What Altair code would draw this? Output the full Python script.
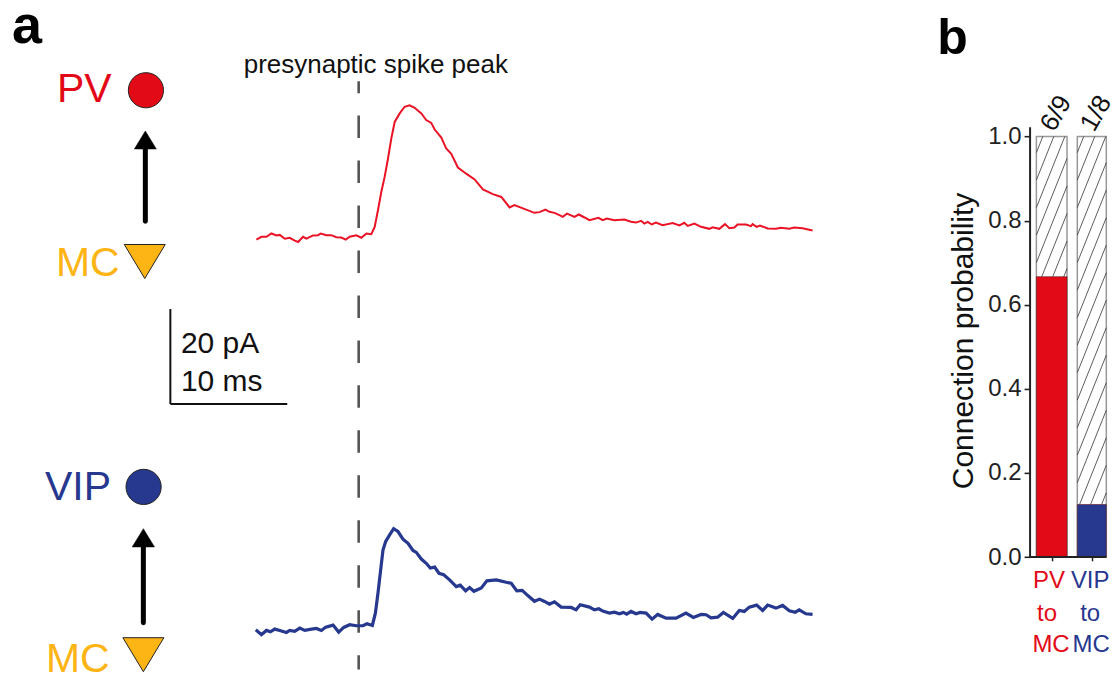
import altair as alt
import pandas as pd

FONT = "Liberation Sans"
RED = "#e30a17"
BLUE = "#27388f"
ORANGE = "#fdb515"

# ---------- panel a: mean postsynaptic currents (ms after presynaptic peak, pA above baseline)
pv_time = [-8.75,-8.32,-7.89,-7.46,-7.04,-6.75,-6.32,-5.9,-5.47,-5.18,-4.76,-4.47,-3.9,-3.47,-3.25,-2.76,-2.34,-1.91,-1.48,-1.11,-0.77,-0.2,0.23,0.66,1.08,1.37,1.65,1.94,2.22,2.51,2.79,3.08,3.51,3.93,4.36,4.79,5.36,5.78,6.21,6.5,7.07,7.49,7.92,8.49,9.2,9.92,10.63,11.48,12.2,12.91,13.33,14.05,15.04,15.47,
           15.98,16.32,16.75,17.18,17.46,17.83,18.46,18.83,19.32,19.74,20.51,20.88,21.22,21.88,22.73,23.3,23.73,24.16,24.44,24.73,25.07,25.44,26,26.87,27.44,27.86,28.15,28.72,29.29,30,30.28,30.85,31.34,31.71,32.14,32.42,33.13,33.56,33.7,34.05,34.33,34.99,35.7,36.12,36.84,37.26,37.98,38.83]
pv_current = [-0.6,0,0,0.7,0.3,0.4,-0.4,-0.2,-0.8,-1.1,0,-0.4,0.3,0.35,0.7,0.35,0.35,-0.1,-0.15,-0.6,0,0.3,-0.2,0.7,0.55,2.1,5.6,9.5,12.6,16.5,20.7,24.2,26,27.4,27.7,27.2,26,24.6,24,22.6,20.9,18.6,17.5,14.6,13.3,12.1,10,9,8.4,6.2,6.7,6,5.05,5.2,
              5.75,5.26,5.05,4.56,4.2,4.9,4.2,4.7,4.07,3.5,4,3.5,3.86,3.5,3.65,3.16,3,3.37,2.8,3.16,2.6,3,2.46,2.88,2.39,2.95,2.3,2.8,2.1,1.68,2,1.68,2.67,1.82,1.96,2.6,2.6,2.25,2.67,2.1,2.39,1.75,1.68,1.9,1.68,1.96,1.82,1.33]
vip_time = [-8.8,-8.32,-7.89,-7.55,-7.18,-6.75,-6.18,-5.9,-5.47,-5.04,-4.61,-4.04,-3.62,-3.19,-2.82,-2.19,-1.71,-1.28,-0.77,-0.2,0.37,0.71,1.17,1.43,1.65,1.88,2.08,2.31,2.65,2.99,3.36,3.79,4.22,4.65,4.93,5.36,5.78,6.13,6.5,6.87,7.27,7.78,8.35,8.69,9.15,9.49,9.86,10.49,10.97,11.77,12.62,13.05,13.53,13.99,14.47,15.04,15.47,
            15.9,16.32,16.75,17.32,18.18,18.6,18.95,19.74,20.17,20.54,20.88,21.45,21.88,22.31,22.65,22.93,23.3,23.73,24.07,24.59,25.1,25.58,26.3,27.15,28,28.63,29.29,29.72,30.14,30.71,31.2,32,32.56,32.99,33.42,34.05,34.56,34.99,35.7,36.27,36.84,37.35,37.69,38.26,38.83]
vip_current = [-0.7,-1.75,-0.84,-1.12,-0.56,-0.84,-1.26,-0.84,-1.05,-0.35,-0.84,-0.56,-0.42,-0.84,-0.14,0.28,-1.19,-0.21,0.35,0.14,0.14,0.56,0.21,2.8,7,11.9,16.1,17.9,19.3,20.6,20,18.4,17.5,16,15.6,14.2,13.3,12.3,12.5,11.2,10.9,9.8,8.4,8.7,7.5,8.2,7.4,8.1,9.6,9.8,9.3,9.1,7.5,7.6,6.5,5.3,5.75,
               5.26,4.7,5.2,4.07,4,3.5,4.56,4.07,3.5,3.72,3.23,2.8,3,2.67,2.95,2.6,3.16,2.67,2.95,2.8,1.54,2.53,1.75,1.75,2.8,1.9,2.53,2.46,1.82,1.96,2.95,1.68,3.37,3.16,4.07,4.49,3.37,4.49,3.86,4.42,3.3,3,3.5,2.67,2.53]
PV_OFFSET = 82.1  # vertical separation of the two traces, pA

# ---------- panel b: connection probability
categories = ["PV to MC", "VIP to MC"]
connected = [6, 1]
tested = [9, 8]
probability = [c / t for c, t in zip(connected, tested)]
bar_colors = [RED, BLUE]

XA = alt.Scale(domain=[-30, 47.78], nice=False, zero=False)
YA = alt.Scale(domain=[-9.75, 130.25], nice=False, zero=False)
XB = alt.Scale(domain=[0.463, 2.453], nice=False, zero=False)
YB = alt.Scale(domain=[-0.2748, 1.3048], nice=False, zero=False)

y_axis = alt.Axis(
    title="Connection probability", values=[0, 0.2, 0.4, 0.6, 0.8, 1.0], format=".1f",
    domain=False, grid=False, tickSize=6, tickWidth=1.6, tickColor="#222222",
    labelFont=FONT, labelFontSize=24, labelColor="#222222", labelPadding=3,
    titleFont=FONT, titleFontSize=30, titleFontWeight="normal", titleColor="#111111", titlePadding=9,
)
x_axis = alt.Axis(
    title=None, values=[1, 2], labels=False, domain=False, grid=False, tickSize=4,
    tickWidth=1.5, tickColor="#222222", offset=-116,
)


def xa(f="x"): return alt.X(f"{f}:Q", scale=XA, axis=None)
def ya(f="y"): return alt.Y(f"{f}:Q", scale=YA, axis=None)
def xb(f="x"): return alt.X(f"{f}:Q", scale=XB, axis=x_axis)
def yb(f="y"): return alt.Y(f"{f}:Q", scale=YB, axis=y_axis)


def df(**k):
    return alt.Data(values=pd.DataFrame(k).to_dict("records"))


def text_a(x, y, s, color, size, weight="normal"):
    return alt.Chart(df(x=[x], y=[y], s=[s])).mark_text(
        align="left", baseline="alphabetic", font=FONT, fontSize=size, fontWeight=weight, color=color
    ).encode(x=xa(), y=ya(), text="s:N")


def vrule_a(x, y0, y1, **style):
    return alt.Chart(df(x=[x], y=[y0], y2=[y1])).mark_rule(**style).encode(
        x=xa(), y=ya(), y2=alt.Y2("y2:Q"))


def symbol_a(x, y, shape, size, fill, stroke="#222222", sw=1.0):
    return alt.Chart(df(x=[x], y=[y])).mark_point(
        shape=shape, size=size, filled=True, fill=fill, fillOpacity=1,
        stroke=stroke, strokeWidth=sw, opacity=1
    ).encode(x=xa(), y=ya())


DOWN = "M-1,-0.83L1,-0.83L0,0.83Z"
UP = "M0,-0.82L1,0.82L-1,0.82Z"

pv_line = alt.Chart(df(t=pv_time, v=[v + PV_OFFSET for v in pv_current])).mark_line(
    color="#ea1326", strokeWidth=2, interpolate="linear").encode(x=xa("t"), y=ya("v"))
vip_line = alt.Chart(df(t=vip_time, v=vip_current)).mark_line(
    color=BLUE, strokeWidth=3.2, interpolate="linear").encode(x=xa("t"), y=ya("v"))

dash = vrule_a(0, 114.9, -9.1, color="#555555", strokeWidth=2.6,
               strokeDash=[22.5, 22.5], strokeDashOffset=10.5)
scale_v = vrule_a(-16.11, 66.88, 46.88, color="#111111", strokeWidth=2)
scale_h = alt.Chart(df(x=[-16.11], x2=[-6.11], y=[46.88])).mark_rule(
    color="#111111", strokeWidth=2).encode(x=xa(), x2=alt.X2("x2:Q"), y=ya())

panel_a = alt.layer(
    dash,
    pv_line,
    vip_line,
    scale_v,
    scale_h,
    vrule_a(-18.25, 85.4, 101, color="black", strokeWidth=5, strokeCap="round"),
    vrule_a(-18.42, 0.77, 17.4, color="black", strokeWidth=5, strokeCap="round"),
    symbol_a(-18.25, 102.5, UP, 484, "black", "black", 0.5),
    symbol_a(-18.42, 18.67, UP, 500, "black", "black", 0.5),
    symbol_a(-18.2, 112.98, "circle", 1240, RED),
    symbol_a(-18.4, 29.4, "circle", 1240, BLUE),
    symbol_a(-18.3, 76.9, DOWN, 1681, ORANGE),
    symbol_a(-18.42, -5.96, DOWN, 1681, ORANGE),
    text_a(-29.66, 122.9, "a", "black", 54, "bold"),
    text_a(-25.81, 110.46, "PV", RED, 41),
    text_a(-25.9, 73.8, "MC", ORANGE, 41),
    text_a(-26.84, 26.67, "VIP", BLUE, 41),
    text_a(-26.75, -9.54, "MC", ORANGE, 41),
    text_a(-9.83, 116.56, "presynaptic spike peak", "#111111", 26),
    text_a(-15.21, 57.6, "20 pA", "#111111", 30),
    text_a(-15.21, 49.6, "10 ms", "#111111", 30),
).properties(width=910, height=665)

# ---------- panel b layers
bar_x0 = [0.62, 1.639]
bar_x1 = [1.383, 2.361]

hatch_rows = []
SLOPE, STEP = 0.2387, 0.274
for b in range(2):
    ymin = probability[b]
    c = bar_x0[b] + 0.16
    while c + (ymin - 1) / SLOPE < bar_x1[b]:
        lo = max(bar_x0[b], c + (ymin - 1) / SLOPE)
        hi = min(bar_x1[b], c)
        key = f"{b}-{c:.3f}"
        hatch_rows.append(dict(k=key, x=lo, y=1 + SLOPE * (lo - c)))
        hatch_rows.append(dict(k=key, x=hi, y=1 + SLOPE * (hi - c)))
        c += STEP

outline = alt.Chart(df(x=bar_x0, x2=bar_x1, y=[0, 0], y2=[1, 1])).mark_rect(
    fill="white", stroke="#999999", strokeWidth=1.5
).encode(x=xb(), x2=alt.X2("x2:Q"), y=yb(), y2=alt.Y2("y2:Q"))
hatch = alt.Chart(alt.Data(values=hatch_rows)).mark_line(
    color="#333333", strokeWidth=0.8).encode(x=xb(), y=yb(), detail="k:N")
filled = alt.Chart(df(x=bar_x0, x2=bar_x1, y=[0, 0], y2=probability, c=bar_colors, name=categories)).mark_rect(
    stroke="#5a1a1a", strokeWidth=0.6
).encode(x=xb(), x2=alt.X2("x2:Q"), y=yb(), y2=alt.Y2("y2:Q"),
         fill=alt.Color("c:N", scale=None))
y_line = alt.Chart(df(x=[0.463], y=[0], y2=[1.022])).mark_rule(color="#222222", strokeWidth=2).encode(
    x=xb(), y=yb(), y2=alt.Y2("y2:Q"))
x_line = alt.Chart(df(x=[0.463], x2=[2.361], y=[0])).mark_rule(color="#222222", strokeWidth=2).encode(
    x=xb(), x2=alt.X2("x2:Q"), y=yb())

fractions = alt.Chart(df(x=[1.11, 2.105], y=[1.055, 1.055], s=[f"{c}/{t}" for c, t in zip(connected, tested)])).mark_text(
    font=FONT, fontSize=26, angle=300, align="center", baseline="middle", color="#111111"
).encode(x=xb(), y=yb(), text="s:N")

label_rows = df(
    x=[0.935, 0.885, 0.985, 1.96, 1.96, 1.985],
    y=[-0.0729, -0.1513, -0.2249, -0.0729, -0.1513, -0.2249],
    s=["PV", "to", "MC", "VIP", "to", "MC"],
    c=[RED, RED, RED, BLUE, BLUE, BLUE],
)
labels = alt.Chart(label_rows).mark_text(
    font=FONT, fontSize=24, align="center", baseline="alphabetic"
).encode(x=xb(), y=yb(), text="s:N", color=alt.Color("c:N", scale=None))

panel_letter = alt.Chart(df(x=[-1.85], y=[1.1955], s=["b"])).mark_text(
    font=FONT, fontSize=50, fontWeight="bold", align="left", baseline="alphabetic", color="black"
).encode(x=xb(), y=yb(), text="s:N")

panel_b = alt.layer(outline, hatch, filled, y_line, x_line, fractions, labels, panel_letter).properties(
    width=80, height=665)

chart = alt.hconcat(panel_a, panel_b, spacing=113, bounds="flush").properties(
    padding={"left": 0, "top": -9, "right": -6, "bottom": -8}
).configure_view(stroke=None)

chart.save("out.html", embed_options={"renderer": "svg", "actions": False})
